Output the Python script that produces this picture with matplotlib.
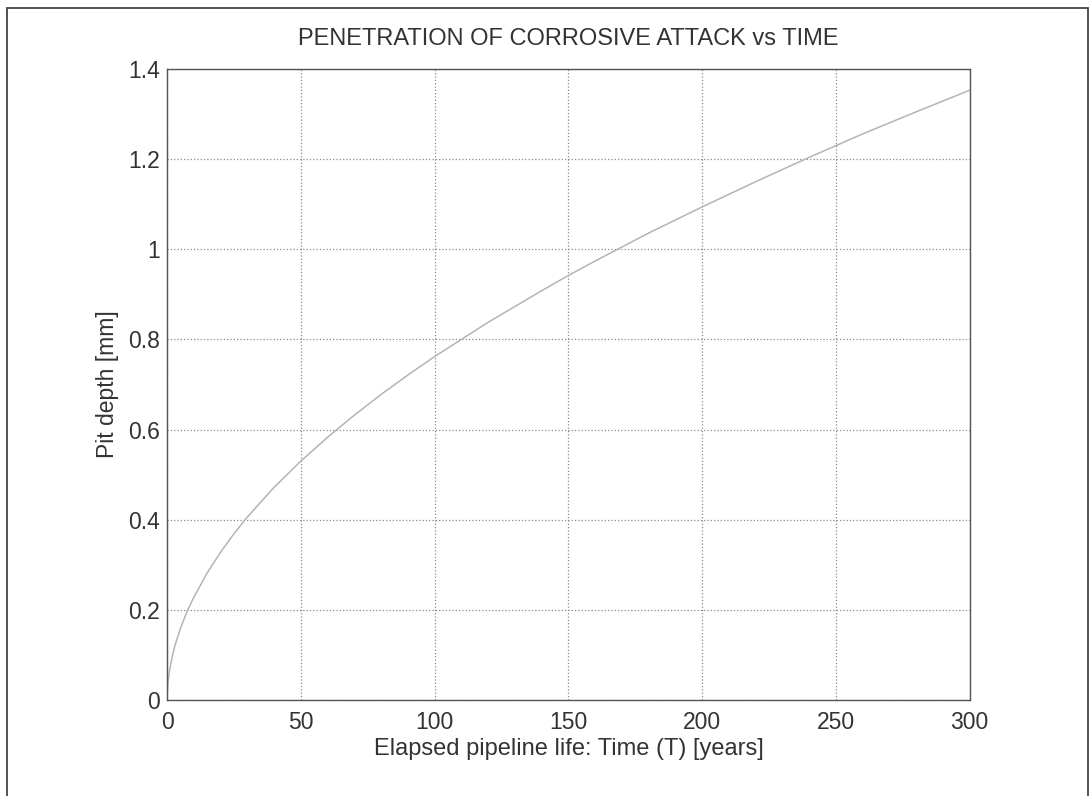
import matplotlib.pyplot as plt
from matplotlib.patches import Rectangle

# Pit depth readings against elapsed pipeline life
time_years = [0, 0.25, 0.5, 1, 2, 3, 5, 7.5, 10, 15, 20, 25, 30, 40, 50, 60, 70,
              80, 90, 100, 120, 140, 150, 160, 180, 200, 220, 240, 250, 260,
              280, 300]
pit_depth_mm = [0.0, 0.033, 0.048, 0.068, 0.098, 0.122, 0.159, 0.197, 0.228,
                0.282, 0.328, 0.369, 0.406, 0.472, 0.530, 0.583, 0.632, 0.678,
                0.721, 0.762, 0.838, 0.908, 0.942, 0.974, 1.036, 1.094, 1.150,
                1.204, 1.230, 1.256, 1.305, 1.353]

x_ticks = [0, 50, 100, 150, 200, 250, 300]
y_ticks = [0, 0.2, 0.4, 0.6, 0.8, 1.0, 1.2, 1.4]
y_tick_labels = ["0", "0.2", "0.4", "0.6", "0.8", "1", "1.2", "1.4"]

plt.rcParams["font.family"] = ["Liberation Sans", "DejaVu Sans"]
text_color = "#333333"

fig = plt.figure(figsize=(10.92, 7.96), dpi=100)
ax = fig.add_axes([0.153, 0.1206, 0.735, 0.7927])

ax.plot(time_years, pit_depth_mm, color="#b4b4b4", linewidth=1.1)

ax.set_xlim(0, 300)
ax.set_ylim(0, 1.4)
ax.set_xticks(x_ticks)
ax.set_yticks(y_ticks)
ax.set_yticklabels(y_tick_labels)
ax.tick_params(length=0, labelsize=16.5, labelcolor=text_color)
ax.tick_params(axis="y", pad=5)
ax.tick_params(axis="x", pad=8)
ax.grid(True, linestyle=":", color="#8a8a8a", linewidth=0.9)

for spine in ax.spines.values():
    spine.set_color("#555555")
    spine.set_linewidth(1.0)

ax.set_title("PENETRATION OF CORROSIVE ATTACK vs TIME", fontsize=17,
             color=text_color, pad=17)
ax.set_xlabel("Elapsed pipeline life: Time (T) [years]", fontsize=17,
              color=text_color, labelpad=3)
ax.set_ylabel("Pit depth [mm]", fontsize=16.5, color=text_color, labelpad=7)

# page border around the whole plot
fig.add_artist(Rectangle((7 / 1092, -0.05), (1088 - 7) / 1092, 1.04,
                         transform=fig.transFigure, fill=False,
                         edgecolor="#444444", linewidth=1.3))

fig.savefig("out.png", dpi=100)
